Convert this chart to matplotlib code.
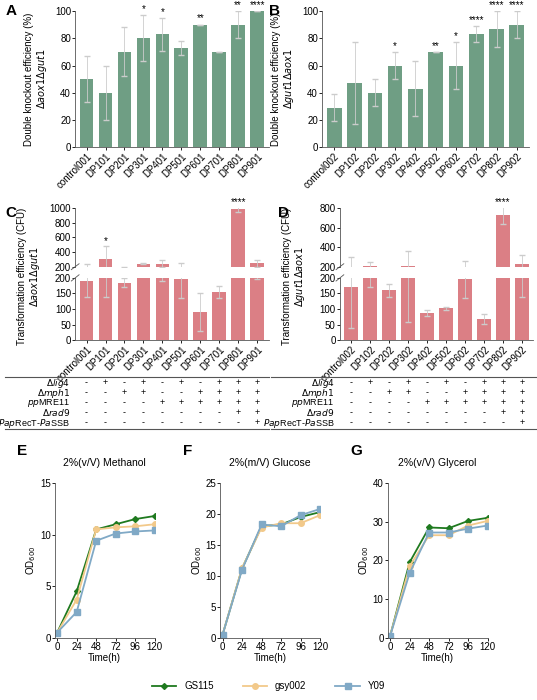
import numpy as np
import matplotlib.pyplot as plt
from matplotlib.transforms import blended_transform_factory

plt.rcParams['font.family'] = ['Liberation Sans', 'DejaVu Sans']
plt.rcParams['font.size'] = 7

# ---- data ----
names_a = ["control001", "DP101", "DP201", "DP301", "DP401", "DP501", "DP601", "DP701", "DP801", "DP901"]
names_b = ["control002", "DP102", "DP202", "DP302", "DP402", "DP502", "DP602", "DP702", "DP802", "DP902"]
eff_a = [50, 40, 70, 80, 83, 73, 90, 70, 90, 100]
err_a = [17, 20, 18, 17, 12, 5, 0, 0, 10, 0]
star_a = ["", "", "", "*", "*", "", "**", "", "**", "****"]
eff_b = [29, 47, 40, 60, 43, 70, 60, 83, 87, 90]
err_b = [10, 30, 10, 10, 20, 0, 17, 6, 13, 10]
star_b = ["", "", "", "*", "", "**", "*", "****", "****", "****"]

cfu_c = [190, 310, 185, 240, 240, 195, 90, 155, 980, 245]
err_c = [50, 170, 15, 10, 50, 60, 60, 20, 40, 50]
star_c = ["", "*", "", "", "", "", "", "", "****", ""]
cfu_d = [170, 210, 160, 210, 88, 102, 195, 68, 730, 230]
err_d = [130, 40, 20, 150, 10, 5, 60, 15, 90, 90]
star_d = ["", "", "", "", "", "", "", "", "****", ""]

rows = [r"$\Delta\it{lig4}$", r"$\Delta\it{mph1}$", r"$\it{pp}$MRE11", r"$\Delta\it{rad9}$",
        r"$\it{Pap}$RecT-$\it{Pa}$SSB"]
table = ["-+-+-+-+++", "--++--++++", "----++++++", "--------++", "---------+"]

time = [0, 24, 48, 72, 96, 120]
growth = {
    "2%(v/V) Methanol": ([0.5, 4.5, 10.5, 11.0, 11.5, 11.8],
                         [0.5, 3.7, 10.5, 10.7, 10.8, 11.0],
                         [0.5, 2.5, 9.4, 10.1, 10.3, 10.4], 15, 5),
    "2%(m/V) Glucose": ([0.5, 11.2, 18.0, 18.3, 19.5, 20.3],
                        [0.5, 11.3, 17.8, 18.5, 18.5, 19.8],
                        [0.5, 11.0, 18.3, 18.0, 19.8, 20.8], 25, 5),
    "2%(v/V) Glycerol": ([0.5, 19.5, 28.5, 28.3, 30.2, 31.0],
                         [0.5, 18.5, 26.5, 26.5, 29.0, 30.2],
                         [0.5, 16.7, 27.2, 27.2, 28.2, 29.0], 40, 10),
}
strains = ["GS115", "gsy002", "Y09"]

green = "#6f9e84"
pink = "#db7f85"
line_colors = ["#1f7a1f", "#f2c98a", "#80a9c6"]
markers = ["D", "o", "s"]

fig = plt.figure(figsize=(5.37, 7), dpi=100)


def style(ax):
    for s in ["top", "right"]:
        ax.spines[s].set_visible(False)
    ax.tick_params(length=2, width=0.6, pad=1)
    for s in ["left", "bottom"]:
        ax.spines[s].set_linewidth(0.6)
        ax.spines[s].set_color("#555555")


def eff_panel(rect, names, vals, errs, stars, letter, lab):
    ax = fig.add_axes(rect)
    x = np.arange(len(names))
    ax.bar(x, vals, width=0.72, color=green)
    ax.errorbar(x, vals, yerr=errs, fmt="none", ecolor="#cccccc", elinewidth=0.6, capsize=2)
    for xi, v, e, s in zip(x, vals, errs, stars):
        if s:
            ax.text(xi, v + e + 1, s, ha="center", va="bottom", fontsize=7)
    ax.set_ylim(0, 100)
    ax.set_xlim(-0.6, len(names) - 0.4)
    ax.set_yticks([0, 20, 40, 60, 80, 100])
    ax.set_xticks(x)
    ax.set_xticklabels(names, rotation=45, ha="right", rotation_mode="anchor")
    ax.set_ylabel("Double knockout efficiency (%)\n" + lab, fontsize=7, linespacing=1.1)
    style(ax)
    fig.text(rect[0] - 0.13 if letter == "A" else rect[0] - 0.1, rect[1] + rect[3] - 0.005,
             letter, fontsize=11, fontweight="bold")


eff_panel([0.14, 0.79, 0.36, 0.194], names_a, eff_a, err_a, star_a, "A",
          r"$\Delta\it{aox1}\Delta\it{gut1}$")
eff_panel([0.60, 0.79, 0.385, 0.194], names_b, eff_b, err_b, star_b, "B",
          r"$\Delta\it{gut1}\Delta\it{aox1}$")


def cfu_panel(left, width, names, vals, errs, stars, letter, top_max, top_ticks, lab):
    axt = fig.add_axes([left, 0.619, width, 0.084])
    axb = fig.add_axes([left, 0.514, width, 0.089])
    x = np.arange(len(names))
    for ax in (axt, axb):
        ax.bar(x, vals, width=0.72, color=pink)
        ax.errorbar(x, vals, yerr=errs, fmt="none", ecolor="#cccccc", elinewidth=0.6, capsize=2)
        ax.set_xlim(-0.6, len(names) - 0.4)
        style(ax)
    axt.set_ylim(200, top_max)
    axt.set_yticks(top_ticks)
    axt.spines["bottom"].set_visible(False)
    axt.set_xticks([])
    axb.set_ylim(0, 200)
    axb.set_yticks([0, 50, 100, 150, 200])
    axb.set_xticks(x)
    axb.set_xticklabels(names, rotation=45, ha="right", rotation_mode="anchor")
    for xi, v, e, s in zip(x, vals, errs, stars):
        if s:
            axt.text(xi, min(v + e, top_max) + 5, s, ha="center", va="bottom", fontsize=7)
    # break marks
    kw = dict(color="#555555", lw=0.6, clip_on=False)
    axt.plot([-0.02, 0.02], [-0.05, 0.05], transform=axt.transAxes, **kw)
    axb.plot([-0.02, 0.02], [0.95, 1.05], transform=axb.transAxes, **kw)
    fig.text(left - 0.085, 0.605, "Transformation efficiency (CFU)\n" + lab, rotation=90,
             ha="center", va="center", fontsize=7, linespacing=1.1)
    fig.text(left - 0.13 if letter == "C" else left - 0.115, 0.69, letter,
             fontsize=11, fontweight="bold")
    # genotype table
    tr = blended_transform_factory(axb.transData, fig.transFigure)
    ys = [1 - 383 / 700, 1 - 393 / 700, 1 - 403 / 700, 1 - 413 / 700, 1 - 423 / 700]
    for yy, lbl, row in zip(ys, rows, table):
        fig.text(left - 0.01, yy, lbl, ha="right", va="center", fontsize=6.5)
        for xi, c in zip(x, row):
            axb.text(xi, yy, c, transform=tr, ha="center", va="center", fontsize=6.5)
    return axb


cfu_panel(0.14, 0.36, names_a, cfu_c, err_c, star_c, "C", 1000,
          [200, 400, 600, 800, 1000], r"$\Delta\it{aox1}\Delta\it{gut1}$")
cfu_panel(0.633, 0.36, names_b, cfu_d, err_d, star_d, "D", 800,
          [200, 400, 600, 800], r"$\Delta\it{gut1}\Delta\it{aox1}$")
for x0, x1 in [(0.01, 0.5), (0.505, 1.0)]:
    for yy in [1 - 377 / 700, 1 - 429 / 700]:
        fig.add_artist(plt.Line2D([x0, x1], [yy, yy], transform=fig.transFigure,
                                  color="#555555", lw=0.8))

# growth curves
lefts = [0.102, 0.41, 0.722]
letters = ["E", "F", "G"]
handles = []
for left, letter, (title, data) in zip(lefts, letters, growth.items()):
    ax = fig.add_axes([left, 0.089, 0.186, 0.221])
    *series, ymax, step = data
    handles = []
    for vals, c, m, nm in zip(series, line_colors, markers, strains):
        h, = ax.plot(time, vals, color=c, marker=m, markersize=4 if m != "D" else 3,
                     lw=1.3, label=nm)
        handles.append(h)
    ax.set_xlim(-3, 120)
    ax.set_ylim(0, ymax)
    ax.set_xticks(time)
    ax.set_yticks(np.arange(0, ymax + 1, step))
    ax.set_xlabel("Time(h)", labelpad=1)
    ax.set_ylabel(r"OD$_{600}$", labelpad=1)
    ax.set_title(title, fontsize=7.5, pad=12)
    style(ax)
    fig.text(left - 0.07, 0.35, letter, fontsize=11, fontweight="bold")

fig.legend(handles, strains, loc="lower center", ncol=3, frameon=False,
           bbox_to_anchor=(0.5, 0.0), fontsize=7, handlelength=2.5, columnspacing=3)

fig.savefig("out.png", dpi=100)
